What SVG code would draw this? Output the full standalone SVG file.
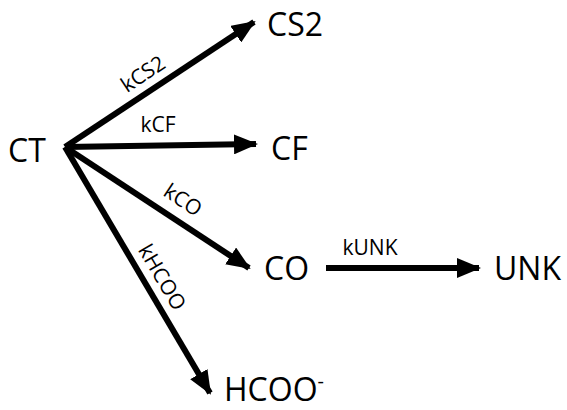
<svg xmlns="http://www.w3.org/2000/svg" width="567" height="410" viewBox="0 0 567 410">
  <style>
    text { font-family: "Open Sans", "Liberation Sans", sans-serif; fill: #000; }
    .node { font-size: 32px; }
    .rate { font-size: 21px; }
    .edge { stroke: #000; stroke-width: 6; fill: none; marker-end: url(#head); }
  </style>
  <defs>
    <marker id="head" markerUnits="userSpaceOnUse" markerWidth="24" markerHeight="20" viewBox="0 0 24 20" refX="22" refY="10" orient="auto">
      <path d="M0,0 L24,10 L0,20 Z" fill="#000"/>
    </marker>
  </defs>

  <g id="connectors">
    <line class="edge" x1="65" y1="147" x2="254" y2="22"/>
    <line class="edge" x1="65" y1="147" x2="256" y2="144"/>
    <line class="edge" x1="65" y1="147" x2="249" y2="268"/>
    <line class="edge" x1="65" y1="147" x2="210" y2="393"/>
    <line class="edge" x1="326" y1="268" x2="479" y2="268"/>
    <text class="rate" transform="translate(147,80) rotate(-33.5)" text-anchor="middle">kCS2</text>
    <text class="rate" x="158" y="132" text-anchor="middle">kCF</text>
    <text class="rate" transform="translate(179,206) rotate(33.5)" text-anchor="middle">kCO</text>
    <text class="rate" transform="translate(156,281) rotate(59.4)" text-anchor="middle">kHCOO</text>
    <text class="rate" x="370" y="255" text-anchor="middle">kUNK</text>
  </g>

  <g id="CT"><text class="node" x="8" y="162">CT</text></g>
  <g id="CS2"><text class="node" x="267" y="36">CS2</text></g>
  <g id="CF"><text class="node" x="271" y="160">CF</text></g>
  <g id="CO"><text class="node" x="264" y="280">CO</text></g>
  <g id="UNK"><text class="node" x="494" y="280">UNK</text></g>
  <g id="HCOO"><text class="node" x="224" y="401">HCOO<tspan font-size="20" dy="-13">-</tspan></text></g>
</svg>
